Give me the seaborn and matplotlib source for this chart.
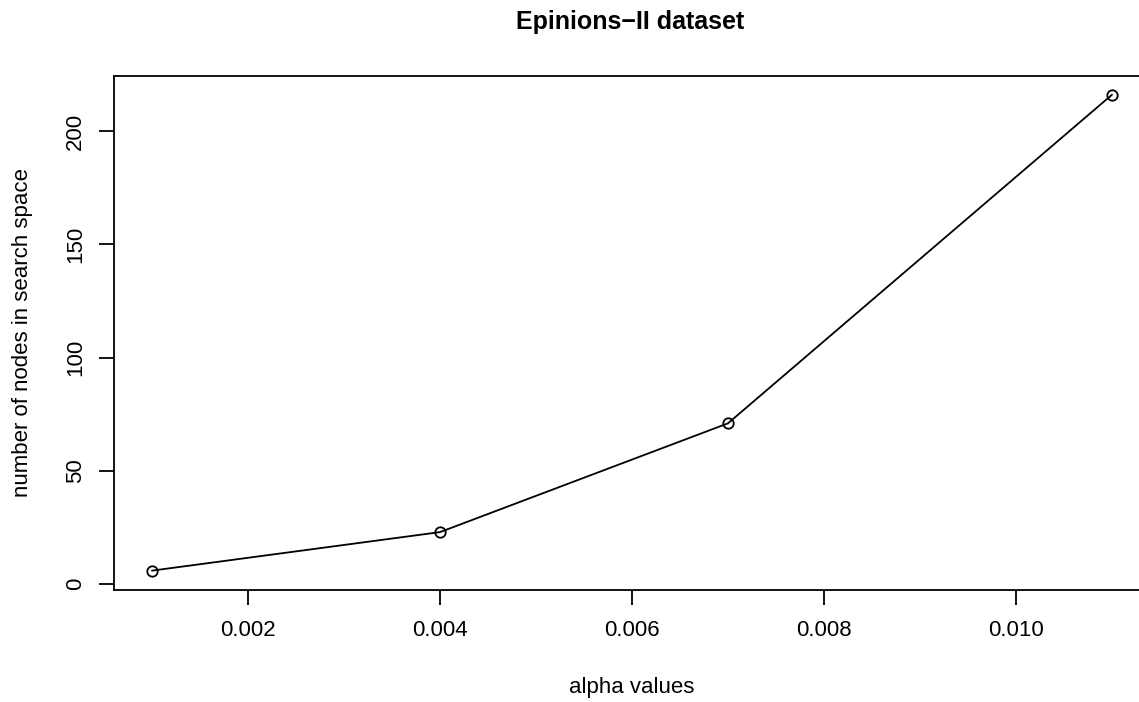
import matplotlib
matplotlib.use("Agg")
import matplotlib.pyplot as plt
import seaborn as sns
import pandas as pd

alpha_values = [0.001, 0.004, 0.007, 0.011]
node_counts = [6, 23, 71, 216]
x_ticks = [0.002, 0.004, 0.006, 0.008, 0.010]
x_tick_labels = ["0.002", "0.004", "0.006", "0.008", "0.010"]
y_ticks = [0, 50, 100, 150, 200]
y_tick_labels = ["0", "50", "100", "150", "200"]

sns.set_style("white")
plt.rcParams["font.family"] = ["Liberation Sans", "DejaVu Sans"]
plt.rcParams["text.color"] = "black"
plt.rcParams["axes.labelcolor"] = "black"
plt.rcParams["xtick.color"] = "black"
plt.rcParams["ytick.color"] = "black"

df = pd.DataFrame({"alpha": alpha_values, "nodes": node_counts})

fig = plt.figure(figsize=(11.39, 7.02), dpi=100)
ax = fig.add_axes([0.0997, 0.16, 0.9103, 0.7322])

sns.lineplot(data=df, x="alpha", y="nodes", ax=ax, color="black", linewidth=1.3,
             marker="o", markersize=7.5, markerfacecolor="none",
             markeredgecolor="black", markeredgewidth=1.3)

# R-style 4% padding around the data range
xr = max(alpha_values) - min(alpha_values)
yr = max(node_counts) - min(node_counts)
ax.set_xlim(min(alpha_values) - 0.04 * xr, max(alpha_values) + 0.04 * xr)
ax.set_ylim(min(node_counts) - 0.04 * yr, max(node_counts) + 0.04 * yr)

ax.set_xticks(x_ticks)
ax.set_xticklabels(x_tick_labels)
ax.set_yticks(y_ticks)
ax.set_yticklabels(y_tick_labels, rotation=90, va="center")

for s in ax.spines.values():
    s.set_color("black")
    s.set_linewidth(1.3)

ax.tick_params(axis="both", direction="out", length=10.8, width=1.3,
               labelsize=16, bottom=True, left=True)
ax.tick_params(axis="x", pad=11)
ax.tick_params(axis="y", pad=9)

ax.set_xlabel("alpha values", fontsize=16)
ax.xaxis.set_label_coords(0.5, -0.17)
ax.set_ylabel("number of nodes in search space", fontsize=16)
ax.yaxis.set_label_coords(-0.0777, 0.5)

fig.text(0.5536, 0.9587, "Epinions\u2212II dataset", fontsize=18, fontweight="bold",
         ha="center", va="baseline")

fig.savefig("out.png", dpi=100)
